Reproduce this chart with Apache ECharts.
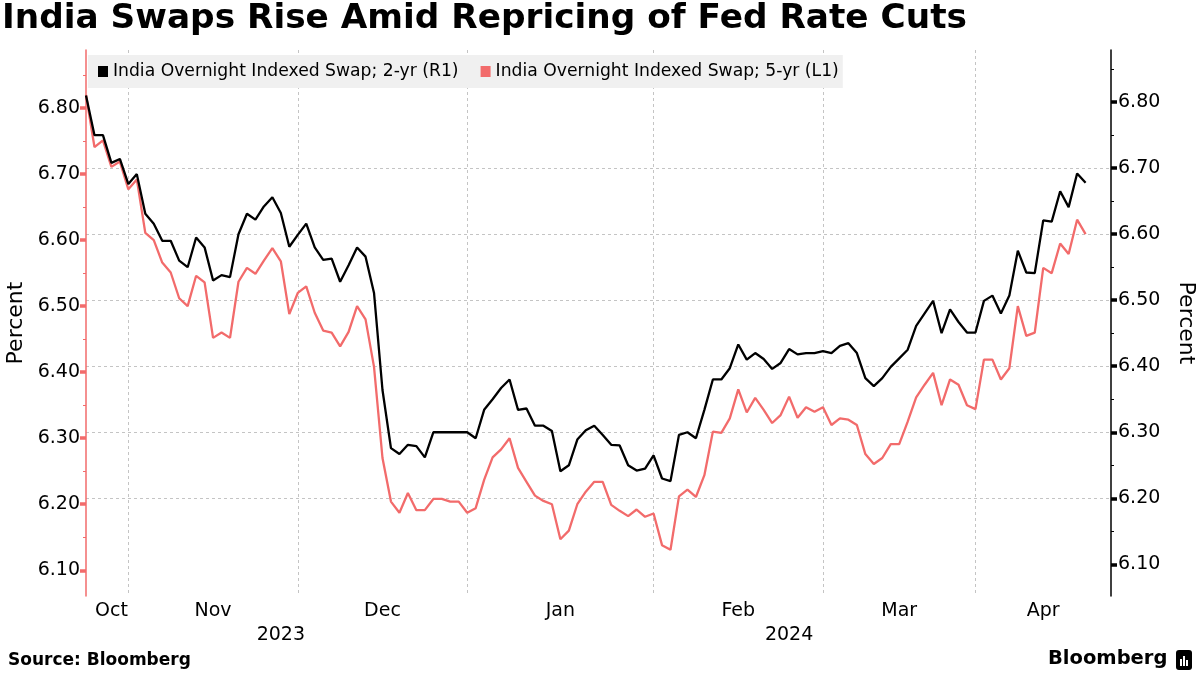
<!DOCTYPE html>
<html><head><meta charset="utf-8">
<script src="https://cdn.jsdelivr.net/npm/echarts/dist/echarts.min.js"></script>
<style>html,body{margin:0;padding:0;background:#fff}#c{width:1200px;height:675px}</style>
</head><body><div id="c"></div>
<script>
// ---- data ----
const months = ['Oct','Nov','Dec','Jan','Feb','Mar','Apr'];
const monthYears = ['2023','2023','2023','2024','2024','2024','2024'];
const tradingDaysPerMonth = [5,20,20,22,20,18,14];
const padDays = 3;
const monthLabelIdx = [3,15,35,56,77,96,113];
const yearLabels = ['2023','2024'];
const yearLabelIdx = [23,83];
const yTickValues = [6.1,6.2,6.3,6.4,6.5,6.6,6.7,6.8];

const twoYr = [6.810,6.750,6.750,6.708,6.714,6.676,6.691,6.631,6.616,6.590,
6.590,6.560,6.550,6.595,6.580,6.530,6.538,6.535,6.600,6.631,
6.622,6.642,6.656,6.632,6.581,6.599,6.616,6.580,6.561,6.563,
6.528,6.553,6.580,6.566,6.511,6.364,6.276,6.267,6.281,6.279,
6.262,6.300,6.300,6.300,6.300,6.300,6.291,6.334,6.350,6.367,
6.380,6.334,6.336,6.310,6.310,6.302,6.241,6.250,6.289,6.303,
6.310,6.296,6.281,6.280,6.250,6.242,6.245,6.265,6.230,6.226,
6.296,6.300,6.291,6.334,6.380,6.380,6.397,6.433,6.410,6.420,
6.411,6.396,6.405,6.426,6.418,6.420,6.420,6.423,6.420,6.431,
6.435,6.420,6.382,6.370,6.382,6.399,6.412,6.425,6.461,6.480,
6.499,6.450,6.486,6.467,6.451,6.451,6.499,6.507,6.480,6.507,
6.575,6.542,6.541,6.621,6.619,6.665,6.641,6.692,6.678];

const fiveYr = [6.820,6.741,6.751,6.711,6.719,6.677,6.692,6.611,6.600,6.566,
6.551,6.512,6.500,6.546,6.536,6.452,6.460,6.452,6.537,6.558,
6.549,6.569,6.588,6.568,6.488,6.520,6.530,6.490,6.463,6.460,
6.439,6.461,6.500,6.480,6.408,6.270,6.204,6.187,6.217,6.191,
6.191,6.208,6.208,6.204,6.204,6.187,6.194,6.237,6.271,6.283,
6.300,6.255,6.234,6.213,6.205,6.200,6.147,6.160,6.200,6.219,
6.234,6.234,6.199,6.190,6.182,6.192,6.181,6.186,6.138,6.131,
6.212,6.222,6.211,6.244,6.310,6.308,6.330,6.374,6.339,6.361,
6.343,6.323,6.335,6.363,6.331,6.347,6.340,6.347,6.320,6.330,
6.328,6.320,6.276,6.261,6.270,6.291,6.291,6.325,6.362,6.381,
6.399,6.350,6.389,6.381,6.350,6.344,6.419,6.419,6.389,6.406,
6.500,6.455,6.460,6.558,6.550,6.595,6.579,6.631,6.609];

const name2 = 'India Overnight Indexed Swap; 2-yr (R1)';
const name5 = 'India Overnight Indexed Swap; 5-yr (L1)';
const RED = '#f26b6b';

// ---- build categories ----
const categories = [];
const monthStarts = [];
const idxMonthLabel = {};
tradingDaysPerMonth.forEach((n, m) => {
  monthStarts.push(categories.length);
  for (let k = 1; k <= n; k++) categories.push(months[m] + ' ' + monthYears[m] + ' #' + k);
});
for (let p = 1; p <= padDays; p++) categories.push('pad' + p);
monthLabelIdx.forEach((ix, m) => idxMonthLabel[ix] = months[m]);
const idxYearLabel = {};
yearLabelIdx.forEach((ix, k) => idxYearLabel[ix] = yearLabels[k]);
const gridIdx = monthStarts.slice(1);

const FONT = 'DejaVu Sans';
const chart = echarts.init(document.getElementById('c'), null, {renderer: 'canvas'});
chart.setOption({
  animation: false,
  backgroundColor: '#fff',
  textStyle: {fontFamily: FONT},
  title: {
    text: 'India Swaps Rise Amid Repricing of Fed Rate Cuts',
    left: 0, top: 0, padding: [2, 2],
    textStyle: {fontFamily: FONT, fontWeight: 'bold', fontSize: 34.3, color: '#000'}
  },
  legend: {
    data: [name2, name5],
    left: 88, top: 55,
    padding: [8, 4, 8, 10],
    backgroundColor: '#f0f0f0',
    icon: 'rect', itemWidth: 10, itemHeight: 11, itemGap: 22,
    textStyle: {fontFamily: FONT, fontSize: 17.2, color: '#000'}
  },
  grid: {left: 86, right: 89, top: 50, bottom: 79, containLabel: false, outerBoundsMode: 'none'},
  xAxis: [{
    type: 'category', data: categories, boundaryGap: false,
    axisLine: {show: false}, axisTick: {show: false},
    splitLine: {show: true, interval: (i) => gridIdx.indexOf(i) >= 0,
      lineStyle: {color: '#c4c4c4', type: [3, 3], width: 1}},
    axisLabel: {interval: (i) => idxMonthLabel[i] !== undefined,
      formatter: (v, i) => idxMonthLabel[i] || '',
      color: '#000', fontSize: 19, margin: 6, fontFamily: FONT}
  }, {
    type: 'category', data: categories, boundaryGap: false, position: 'bottom', offset: 24,
    axisLine: {show: false}, axisTick: {show: false}, splitLine: {show: false},
    axisLabel: {interval: (i) => idxYearLabel[i] !== undefined,
      formatter: (v, i) => idxYearLabel[i] || '',
      color: '#000', fontSize: 19, margin: 6, fontFamily: FONT}
  }],
  yAxis: [{
    type: 'value', position: 'left', min: 6.061, max: 6.888, splitNumber: 8,
    name: 'Percent', nameLocation: 'middle', nameGap: 59,
    nameTextStyle: {fontSize: 22, color: '#000', fontFamily: FONT},
    axisLine: {show: true, lineStyle: {color: RED, width: 1.5}},
    axisTick: {show: true, length: 6, customValues: yTickValues, lineStyle: {color: RED, width: 3.5}},
    minorTick: {show: true, splitNumber: 2, length: 3, lineStyle: {color: RED, width: 1}},
    splitLine: {show: false},
    axisLabel: {color: '#000', fontSize: 19, margin: 6, customValues: yTickValues,
      formatter: (v) => v.toFixed(2), fontFamily: FONT}
  }, {
    type: 'value', position: 'right', min: 6.052, max: 6.879, splitNumber: 8,
    name: 'Percent', nameLocation: 'middle', nameGap: 64, nameRotate: -90,
    nameTextStyle: {fontSize: 22, color: '#000', fontFamily: FONT},
    axisLine: {show: true, lineStyle: {color: '#000', width: 1.5}},
    axisTick: {show: true, length: 6, customValues: yTickValues, lineStyle: {color: '#000', width: 3.5}},
    minorTick: {show: true, splitNumber: 2, length: 3, lineStyle: {color: '#000', width: 1}},
    splitLine: {show: true, showMinLine: false, showMaxLine: false,
      lineStyle: {color: '#c4c4c4', type: [3, 3], width: 1}},
    axisLabel: {color: '#000', fontSize: 19, margin: 7, customValues: yTickValues,
      formatter: (v) => v.toFixed(2), fontFamily: FONT}
  }],
  series: [{
    name: name5, type: 'line', xAxisIndex: 0, yAxisIndex: 0, data: fiveYr,
    showSymbol: false, symbol: 'none', lineStyle: {color: RED, width: 2.3}, itemStyle: {color: RED}
  }, {
    name: name2, type: 'line', xAxisIndex: 0, yAxisIndex: 1, data: twoYr,
    showSymbol: false, symbol: 'none', lineStyle: {color: '#000', width: 2.3}, itemStyle: {color: '#000'}
  }],
  graphic: [{
    type: 'text', left: 8, top: 652,
    style: {text: 'Source: Bloomberg', fontFamily: FONT, fontWeight: 'bold', fontSize: 17, fill: '#000'}
  }, {
    type: 'text', left: 1048, top: 649,
    style: {text: 'Bloomberg', fontFamily: FONT, fontWeight: 'bold', fontSize: 19.5, fill: '#000'}
  }, {
    type: 'group', left: 1176, top: 650,
    children: [
      {type: 'rect', shape: {x: 0, y: 0, width: 16, height: 20, r: 3}, style: {fill: '#000'}},
      {type: 'rect', shape: {x: 4, y: 9, width: 2, height: 7}, style: {fill: '#fff'}},
      {type: 'rect', shape: {x: 7, y: 6, width: 2, height: 10}, style: {fill: '#fff'}},
      {type: 'rect', shape: {x: 10, y: 10, width: 2, height: 6}, style: {fill: '#fff'}}
    ]
  }]
});
</script></body></html>
